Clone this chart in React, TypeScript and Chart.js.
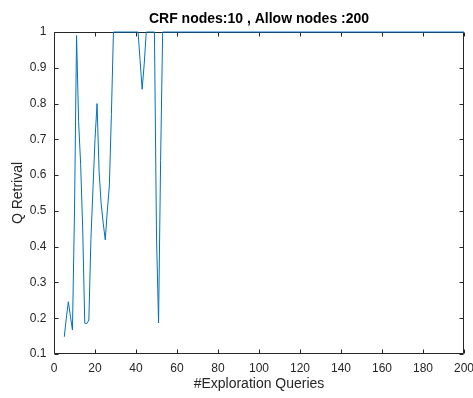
import React, { useEffect, useRef } from "react";
import { Chart, registerables } from "chart.js";

Chart.register(...registerables);

// ---- data ----
const queryX = [5, 6, 7, 8, 9, 10, 11, 12, 13, 14, 15, 16, 17, 18, 19, 20, 21, 22, 23, 24, 25, 26, 27, 28, 29, 41, 42, 43, 44, 45, 49, 50, 51, 52, 53, 200];
const retrievalY = [0.148, 0.2, 0.246, 0.206, 0.167, 0.5, 0.99, 0.75, 0.63, 0.45, 0.186, 0.185, 0.195, 0.42, 0.56, 0.7, 0.8, 0.61, 0.52, 0.466, 0.419, 0.5, 0.57, 0.77, 1, 1, 0.92, 0.84, 0.91, 1, 1, 0.43, 0.187, 0.64, 1, 1];
const xTicks = [0, 20, 40, 60, 80, 100, 120, 140, 160, 180, 200];
const yTicks = [0.1, 0.2, 0.3, 0.4, 0.5, 0.6, 0.7, 0.8, 0.9, 1];
const titleText = "CRF nodes:10 , Allow nodes :200";
const xLabel = "#Exploration Queries";
const yLabel = "Q Retrival";

const AXIS = "#262626";
const LINE = "#0072BD";
const FONT = "'Liberation Sans', Arial, Helvetica, sans-serif";

const boxPlugin = {
  id: "matlabBox",
  beforeDatasetsDraw(chart: any) {
    const { ctx, chartArea: a, scales } = chart;
    const xs = scales.x;
    const ys = scales.y;
    const L = Math.round(a.left) + 0.5;
    const R = Math.round(a.right) - 0.5;
    const T = Math.round(a.top) + 0.5;
    const B = Math.round(a.bottom) - 0.5;
    const tl = 4;
    ctx.save();
    ctx.strokeStyle = AXIS;
    ctx.lineWidth = 1;
    ctx.beginPath();
    ctx.rect(L, T, R - L, B - T);
    for (const v of xTicks) {
      const px = Math.round(xs.getPixelForValue(v)) + 0.5;
      ctx.moveTo(px, B);
      ctx.lineTo(px, B - tl);
      ctx.moveTo(px, T);
      ctx.lineTo(px, T + tl);
    }
    for (const v of yTicks) {
      const py = Math.round(ys.getPixelForValue(v)) + 0.5;
      ctx.moveTo(L, py);
      ctx.lineTo(L + tl, py);
      ctx.moveTo(R, py);
      ctx.lineTo(R - tl, py);
    }
    ctx.stroke();
    ctx.restore();
  },
};

export default function App() {
  const ref = useRef<HTMLCanvasElement | null>(null);

  useEffect(() => {
    if (!ref.current) return;
    const chart = new Chart(ref.current, {
      type: "line",
      data: {
        datasets: [
          {
            data: queryX.map((x, i) => ({ x, y: retrievalY[i] })),
            borderColor: LINE,
            borderWidth: 1,
            pointRadius: 0,
            tension: 0,
            fill: false,
            clip: 4,
          } as any,
        ],
      },
      options: {
        animation: false,
        responsive: false,
        maintainAspectRatio: false,
        layout: { padding: { left: 0, right: 9, top: 0, bottom: 0 } },
        plugins: {
          legend: { display: false },
          tooltip: { enabled: false },
          title: {
            display: true,
            fullSize: false,
            text: titleText,
            color: "#000000",
            font: { family: FONT, size: 14, weight: "bold" },
            padding: { top: 10.9, bottom: 4.3 },
          },
        },
        scales: {
          x: {
            type: "linear",
            min: 0,
            max: 200,
            afterBuildTicks: (s: any) => {
              s.ticks = xTicks.map((v) => ({ value: v }));
            },
            afterFit: (s: any) => {
              s.height = 44;
              s.paddingLeft = 0;
              s.paddingRight = 0;
            },
            ticks: {
              autoSkip: false,
              maxRotation: 0,
              padding: 7,
              color: AXIS,
              font: { family: FONT, size: 12 },
              callback: (v: any) => String(v),
            },
            grid: { display: false, drawTicks: false },
            border: { display: false },
            title: {
              display: true,
              text: xLabel,
              color: AXIS,
              font: { family: FONT, size: 14 },
              padding: { top: 0, bottom: 5.6 },
            },
          },
          y: {
            type: "linear",
            min: 0.1,
            max: 1,
            afterBuildTicks: (s: any) => {
              s.ticks = yTicks.map((v) => ({ value: v }));
            },
            afterFit: (s: any) => {
              s.width = 54;
              s.paddingTop = 0;
              s.paddingBottom = 0;
            },
            ticks: {
              padding: 7.5,
              color: AXIS,
              font: { family: FONT, size: 12 },
              callback: (v: any) => String(Math.round(Number(v) * 10) / 10),
            },
            grid: { display: false, drawTicks: false },
            border: { display: false },
            title: {
              display: true,
              text: yLabel,
              color: AXIS,
              font: { family: FONT, size: 14 },
              padding: { top: 9.6, bottom: 0 },
            },
          },
        },
      } as any,
      plugins: [boxPlugin],
    });
    return () => chart.destroy();
  }, []);

  return (
    <div style={{ position: "absolute", left: 0, top: 0, width: 473, height: 398, background: "#ffffff" }}>
      <canvas ref={ref} width={473} height={398} />
    </div>
  );
}
